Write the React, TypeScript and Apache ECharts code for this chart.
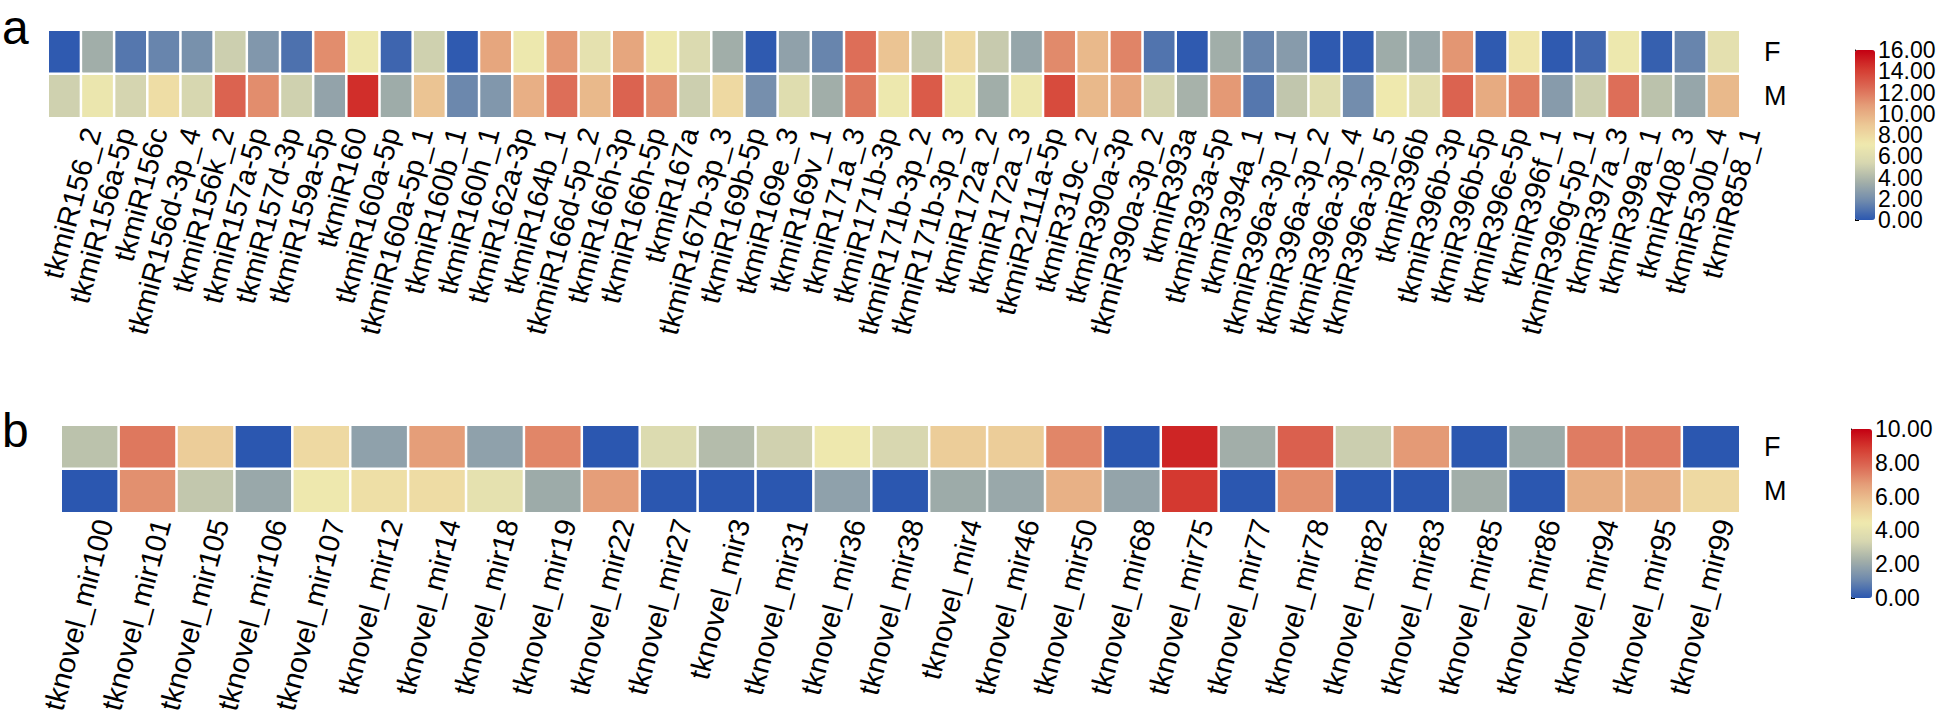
import React, { useEffect, useRef } from "react";
import * as echarts from "echarts";

const catsA = [
  "tkmiR156_2", "tkmiR156a-5p", "tkmiR156c", "tkmiR156d-3p_4", "tkmiR156k_2", "tkmiR157a-5p",
  "tkmiR157d-3p", "tkmiR159a-5p", "tkmiR160", "tkmiR160a-5p", "tkmiR160a-5p_1", "tkmiR160b_1",
  "tkmiR160h_1", "tkmiR162a-3p", "tkmiR164b_1", "tkmiR166d-5p_2", "tkmiR166h-3p", "tkmiR166h-5p",
  "tkmiR167a", "tkmiR167b-3p_3", "tkmiR169b-5p", "tkmiR169e_3", "tkmiR169v_1", "tkmiR171a_3",
  "tkmiR171b-3p", "tkmiR171b-3p_2", "tkmiR171b-3p_3", "tkmiR172a_2", "tkmiR172a_3", "tkmiR2111a-5p",
  "tkmiR319c_2", "tkmiR390a-3p", "tkmiR390a-3p_2", "tkmiR393a", "tkmiR393a-5p", "tkmiR394a_1",
  "tkmiR396a-3p_1", "tkmiR396a-3p_2", "tkmiR396a-3p_4", "tkmiR396a-3p_5", "tkmiR396b", "tkmiR396b-3p",
  "tkmiR396b-5p", "tkmiR396e-5p", "tkmiR396f_1", "tkmiR396g-5p_1", "tkmiR397a_3", "tkmiR399a_1",
  "tkmiR408_3", "tkmiR530b_4", "tkmiR858_1",
];
const fA = [
  0.1, 3.5, 1.1, 1.6, 2.1, 5.0, 2.4, 0.9, 11.3, 7.0, 0.5, 5.1, 0.1, 10.4, 7.0, 10.9, 6.4,
  10.4, 7.0, 5.7, 3.5, 0.1, 2.9, 1.6, 12.3, 9.1, 4.8, 8.0, 4.8, 3.1, 11.4, 9.6, 11.6, 1.0,
  0.1, 3.5, 1.6, 2.6, 0.1, 0.1, 3.4, 3.2, 11.0, 0.1, 7.3, 0.1, 0.6, 7.0, 0.3, 1.6, 6.3,
];
const mA = [
  5.1, 6.8, 5.3, 7.8, 5.4, 12.7, 11.3, 5.1, 3.0, 14.6, 3.4, 9.1, 1.7, 2.4, 10.0, 12.3, 9.6,
  12.7, 11.3, 5.0, 8.0, 2.0, 6.0, 3.5, 12.0, 7.0, 13.0, 7.0, 3.5, 7.0, 13.6, 9.6, 10.4, 5.3,
  3.7, 10.9, 1.1, 4.6, 6.0, 1.9, 7.1, 6.2, 12.7, 10.2, 11.8, 2.6, 5.0, 12.3, 4.4, 3.1, 9.6,
];

const catsB = [
  "tknovel_mir100", "tknovel_mir101", "tknovel_mir105", "tknovel_mir106", "tknovel_mir107",
  "tknovel_mir12", "tknovel_mir14", "tknovel_mir18", "tknovel_mir19", "tknovel_mir22",
  "tknovel_mir27", "tknovel_mir3", "tknovel_mir31", "tknovel_mir36", "tknovel_mir38",
  "tknovel_mir4", "tknovel_mir46", "tknovel_mir50", "tknovel_mir68", "tknovel_mir75",
  "tknovel_mir77", "tknovel_mir78", "tknovel_mir82", "tknovel_mir83", "tknovel_mir85",
  "tknovel_mir86", "tknovel_mir94", "tknovel_mir95", "tknovel_mir99",
];
const fB = [
  2.75, 7.5, 5.4, 0.0, 5.0, 1.8, 6.7, 1.8, 7.2, 0.0, 3.6, 2.6, 3.2, 4.4, 3.4,
  5.4, 5.4, 7.2, 0.0, 9.3, 2.2, 8.0, 3.1, 6.8, 0.0, 2.1, 7.4, 7.4, 0.0,
];
const mB = [
  0.0, 7.0, 2.9, 2.0, 4.4, 4.8, 4.9, 4.0, 2.1, 6.7, 0.0, 0.0, 0.0, 1.8, 0.0,
  2.1, 2.0, 6.2, 1.9, 8.9, 0.0, 7.0, 0.0, 0.0, 2.2, 0.0, 6.3, 6.3, 5.0,
];

const rowNames = ["F", "M"];
const rangeA = [0, 16];
const rangeB = [0, 10];
const tickLabelsA = ["0.00", "2.00", "4.00", "6.00", "8.00", "10.00", "12.00", "14.00", "16.00"];
const tickLabelsB = ["0.00", "2.00", "4.00", "6.00", "8.00", "10.00"];
const palette = [
  "#2b57b0", "#6f8aad", "#a3afa9", "#d6d6b0", "#efe9ae",
  "#ecc996", "#e5a07a", "#dc6a55", "#d43a30", "#c40012",
];

const FONT = "'Liberation Sans', Arial, Helvetica, sans-serif";

function toCells(f: number[], m: number[]) {
  const out: number[][] = [];
  f.forEach((v, i) => out.push([i, 0, v]));
  m.forEach((v, i) => out.push([i, 1, v]));
  return out;
}

export default function App() {
  const ref = useRef<HTMLDivElement>(null);
  useEffect(() => {
    if (!ref.current) return;
    const chart = echarts.init(ref.current, null, { renderer: "svg" });
    const xLabel = (shift: number) => ({
      interval: 0,
      rotate: 75,
      fontSize: 29,
      color: "#000",
      fontFamily: FONT,
      margin: 3,
      verticalAlign: "top",
      padding: [shift, 0, 0, 0],
    });
    const rowAxis = (gridIndex: number) => ({
      type: "category",
      gridIndex,
      data: rowNames,
      inverse: true,
      position: "right",
      axisLine: { show: false },
      axisTick: { show: false },
      axisLabel: { fontSize: 27, color: "#000", fontFamily: FONT, margin: 24 },
    });
    const barAxis = (gridIndex: number, labels: string[]) => ({
      type: "category",
      gridIndex,
      data: labels,
      boundaryGap: false,
      position: "right",
      splitLine: { show: false },
      axisLine: { show: true, lineStyle: { color: "#000", width: 1 } },
      axisTick: { show: true, length: 4, interval: 0, lineStyle: { color: "#000" } },
      axisLabel: {
        interval: 0,
        fontSize: 23,
        color: "#000",
        fontFamily: FONT,
        margin: 3,
      },
    });
    const cellStyle = { borderColor: "#fff", borderWidth: 2.5 };
    chart.setOption({
      animation: false,
      backgroundColor: "#fff",
      title: [
        { text: "a", left: 2, top: 3, padding: 0, textStyle: { fontSize: 48, fontWeight: "normal", color: "#000", fontFamily: FONT } },
        { text: "b", left: 2, top: 406, padding: 0, textStyle: { fontSize: 48, fontWeight: "normal", color: "#000", fontFamily: FONT } },
      ],
      grid: [
        { left: 48, top: 30, width: 1692, height: 88 },
        { left: 61, top: 425, width: 1679, height: 88 },
        { left: 1855, top: 50, width: 20, height: 170 },
        { left: 1851, top: 429, width: 21, height: 169 },
      ],
      xAxis: [
        { type: "category", gridIndex: 0, data: catsA, axisLine: { show: false }, axisTick: { show: false }, axisLabel: xLabel(14), splitLine: { show: false } },
        { type: "category", gridIndex: 1, data: catsB, axisLine: { show: false }, axisTick: { show: false }, axisLabel: xLabel(0), splitLine: { show: false } },
        { type: "value", gridIndex: 2, show: false },
        { type: "value", gridIndex: 3, show: false },
      ],
      yAxis: [
        rowAxis(0),
        rowAxis(1),
        barAxis(2, tickLabelsA),
        barAxis(3, tickLabelsB),
      ],
      visualMap: [
        {
          type: "continuous",
          seriesIndex: 0,
          min: rangeA[0],
          max: rangeA[1],
          left: 1855,
          top: 50,
          itemWidth: 20,
          itemHeight: 170,
          padding: 0,
          calculable: false,
          text: null,
          showLabel: false,
          inRange: { color: palette },
        },
        {
          type: "continuous",
          seriesIndex: 1,
          min: rangeB[0],
          max: rangeB[1],
          left: 1851,
          top: 429,
          itemWidth: 21,
          itemHeight: 169,
          padding: 0,
          calculable: false,
          text: null,
          showLabel: false,
          inRange: { color: palette },
        },
      ],
      series: [
        {
          type: "heatmap",
          xAxisIndex: 0,
          yAxisIndex: 0,
          data: toCells(fA, mA),
          itemStyle: cellStyle,
          emphasis: { disabled: true },
          silent: true,
        },
        {
          type: "heatmap",
          xAxisIndex: 1,
          yAxisIndex: 1,
          data: toCells(fB, mB),
          itemStyle: cellStyle,
          emphasis: { disabled: true },
          silent: true,
        },
      ],
    });
    return () => chart.dispose();
  }, []);
  return (
    <div
      ref={ref}
      style={{ position: "fixed", left: 0, top: 0, width: 1946, height: 717, background: "#fff" }}
    />
  );
}
